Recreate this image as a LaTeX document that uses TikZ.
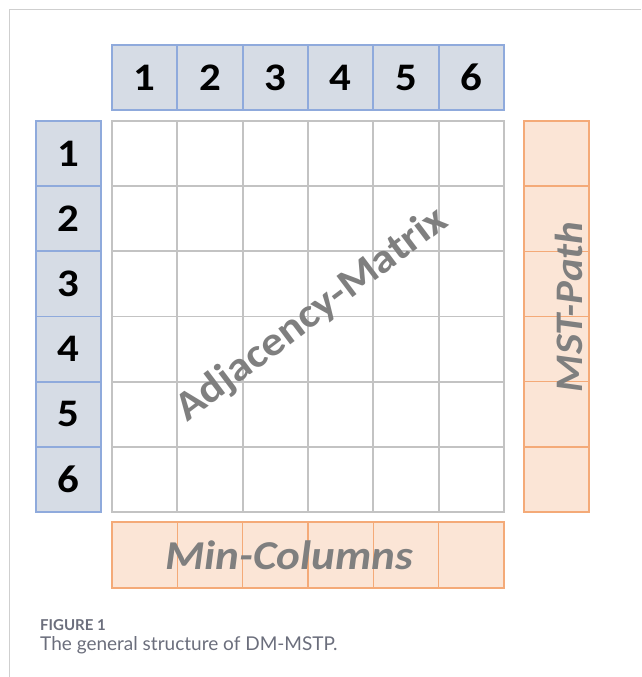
\documentclass[tikz,border=0pt]{standalone}
\usepackage{fontspec}
\setmainfont{Carlito}
\newfontfamily\capfont{Lato}
\newfontfamily\lblfont[FakeStretch=1.1]{Carlito}
\usepackage{tikz}
\usetikzlibrary{positioning}
\definecolor{hdrFill}{HTML}{D6DCE5}
\definecolor{hdrLine}{HTML}{8FAADC}
\definecolor{auxFill}{HTML}{FBE5D6}
\definecolor{auxLine}{HTML}{F4AA78}
\definecolor{gridLine}{HTML}{C3C3C3}
\definecolor{labelGray}{HTML}{7F7F7F}
\definecolor{capGray}{HTML}{6B6E7C}
\definecolor{frameGray}{HTML}{CFCFCF}

\begin{document}
\begin{tikzpicture}[x=1pt, y=1pt,
  hdr/.style={draw=hdrLine, fill=hdrFill, line width=1.8pt, minimum width=65.33pt, minimum height=65.17pt, inner sep=0pt, outer sep=0pt, font=\lblfont\fontsize{39}{39}\selectfont\bfseries},
  cellbox/.style={draw=gridLine, line width=1.8pt, minimum width=65.33pt, minimum height=65.17pt, inner sep=0pt, outer sep=0pt},
  aux/.style={draw=auxLine, fill=auxFill, line width=1.6pt, minimum width=65.33pt, minimum height=65.17pt, inner sep=0pt, outer sep=0pt},
  bigLbl/.style={font=\lblfont\fontsize{41}{41}\selectfont\bfseries, color=labelGray}]
\useasboundingbox (0,0) rectangle (641,677);
\draw[frameGray, line width=1pt] (9,0) -- (9,667) -- (641,667);
% column numbers
\node[hdr, minimum height=65pt] (c1) at (144.67,599.5) {1};
\node[hdr, minimum height=65pt, right=0pt of c1] (c2) {2};
\node[hdr, minimum height=65pt, right=0pt of c2] (c3) {3};
\node[hdr, minimum height=65pt, right=0pt of c3] (c4) {4};
\node[hdr, minimum height=65pt, right=0pt of c4] (c5) {5};
\node[hdr, minimum height=65pt, right=0pt of c5] (c6) {6};
% row numbers
\node[hdr, minimum width=65pt] (r1) at (68.5,523.4) {1};
\node[hdr, minimum width=65pt, below=0pt of r1] (r2) {2};
\node[hdr, minimum width=65pt, below=0pt of r2] (r3) {3};
\node[hdr, minimum width=65pt, below=0pt of r3] (r4) {4};
\node[hdr, minimum width=65pt, below=0pt of r4] (r5) {5};
\node[hdr, minimum width=65pt, below=0pt of r5] (r6) {6};
% adjacency matrix
\foreach \r in {1,...,6}
  \foreach \c in {1,...,6}
    \node[cellbox] (m-\r-\c) at (c\c.center |- r\r.center) {};
% MST path and min columns
\foreach \r in {1,...,6}
  \node[aux, minimum width=65pt] (p\r) at (556.5,0 |- r\r.center) {};
\foreach \c in {1,...,6}
  \node[aux, minimum height=66pt] (q\c) at (c\c.center |- 0,122) {};
\node[bigLbl, rotate=37] (adj) at (312,362) {Adjacency-Matrix};
\node[bigLbl, font=\lblfont\fontsize{41}{41}\selectfont\bfseries\itshape] (minc) at (289,122) {Min-Columns};
\node[bigLbl, font=\lblfont\fontsize{39}{39}\selectfont\bfseries\itshape, rotate=90] (mstp) at (569,370) {MST-Path};
% caption
\node[font=\capfont\bfseries\fontsize{15}{15}\selectfont, color=capGray, anchor=base west, inner sep=0pt] (fig) at (40,46) {FIGURE 1};
\node[font=\capfont\fontsize{19}{19}\selectfont, color=capGray, anchor=base west, inner sep=0pt] (cap) at (40,26) {The general structure of DM-MSTP.};
\end{tikzpicture}
\end{document}
